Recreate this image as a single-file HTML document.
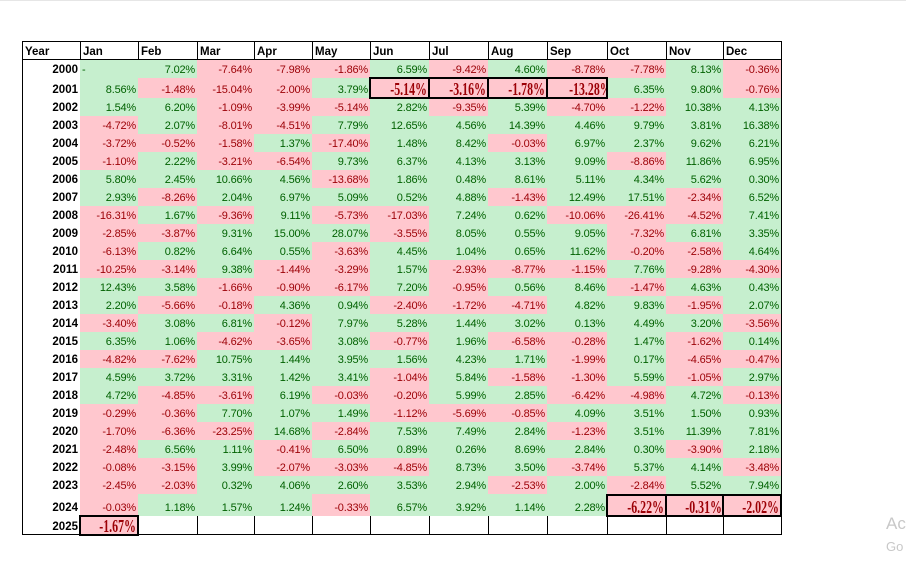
<!DOCTYPE html>
<html><head><meta charset="utf-8"><style>
html,body{margin:0;padding:0;background:#fff;width:906px;height:564px;overflow:hidden;position:relative}
table{position:absolute;left:22px;top:41px;border-collapse:separate;border-spacing:0;table-layout:fixed;width:759px;font-family:"Liberation Sans",sans-serif;font-size:11px;letter-spacing:-0.2px}
td,th{padding:0 2px 1px 2px;vertical-align:bottom;text-align:right;white-space:nowrap;overflow:hidden;line-height:14px}
th{font-weight:bold;color:#000;font-size:11.5px;letter-spacing:0}
thead th{text-align:left;height:18px;padding-left:3px}
tr{height:18px}
tr.r01{height:20px} tr.r24{height:22px} tr.r25{height:19px}
.g{background:#C6EFCE;color:#006100}
.r{background:#FFC7CE;color:#9C0006}
.b{font-family:"Liberation Serif",serif;font-weight:bold;font-size:17.5px;color:#9C0006;letter-spacing:0;line-height:17px;padding-bottom:0}
.b span{display:inline-block;transform:scaleX(0.68);transform-origin:right bottom}
.l{position:absolute;background:#000}
.box{position:absolute;border:2px solid #000;box-sizing:border-box}
.wm{position:absolute;color:#c8c8c8;font-family:"Liberation Sans",sans-serif}
</style></head><body>
<div style="position:absolute;left:0;top:0;width:906px;height:1px;background:#e6e6e6"></div>
<table>
<colgroup><col style="width:58px"><col style="width:58px"><col style="width:59px"><col style="width:57px"><col style="width:58px"><col style="width:58px"><col style="width:59px"><col style="width:59px"><col style="width:59px"><col style="width:60px"><col style="width:59px"><col style="width:57px"><col style="width:58px"></colgroup>
<thead><tr><th>Year</th><th>Jan</th><th>Feb</th><th>Mar</th><th>Apr</th><th>May</th><th>Jun</th><th>Jul</th><th>Aug</th><th>Sep</th><th>Oct</th><th>Nov</th><th>Dec</th></tr></thead>
<tbody>
<tr><th>2000</th><td class="g" style="text-align:left">-</td><td class="g">7.02%</td><td class="r">-7.64%</td><td class="r">-7.98%</td><td class="r">-1.86%</td><td class="g">6.59%</td><td class="r">-9.42%</td><td class="g">4.60%</td><td class="r">-8.78%</td><td class="r">-7.78%</td><td class="g">8.13%</td><td class="r">-0.36%</td></tr>
<tr class="r01"><th>2001</th><td class="g">8.56%</td><td class="r">-1.48%</td><td class="r">-15.04%</td><td class="r">-2.00%</td><td class="g">3.79%</td><td class="r b"><span>-5.14%</span></td><td class="r b"><span>-3.16%</span></td><td class="r b"><span>-1.78%</span></td><td class="r b"><span>-13.28%</span></td><td class="g">6.35%</td><td class="g">9.80%</td><td class="r">-0.76%</td></tr>
<tr><th>2002</th><td class="g">1.54%</td><td class="g">6.20%</td><td class="r">-1.09%</td><td class="r">-3.99%</td><td class="r">-5.14%</td><td class="g">2.82%</td><td class="r">-9.35%</td><td class="g">5.39%</td><td class="r">-4.70%</td><td class="r">-1.22%</td><td class="g">10.38%</td><td class="g">4.13%</td></tr>
<tr><th>2003</th><td class="r">-4.72%</td><td class="g">2.07%</td><td class="r">-8.01%</td><td class="r">-4.51%</td><td class="g">7.79%</td><td class="g">12.65%</td><td class="g">4.56%</td><td class="g">14.39%</td><td class="g">4.46%</td><td class="g">9.79%</td><td class="g">3.81%</td><td class="g">16.38%</td></tr>
<tr><th>2004</th><td class="r">-3.72%</td><td class="r">-0.52%</td><td class="r">-1.58%</td><td class="g">1.37%</td><td class="r">-17.40%</td><td class="g">1.48%</td><td class="g">8.42%</td><td class="r">-0.03%</td><td class="g">6.97%</td><td class="g">2.37%</td><td class="g">9.62%</td><td class="g">6.21%</td></tr>
<tr><th>2005</th><td class="r">-1.10%</td><td class="g">2.22%</td><td class="r">-3.21%</td><td class="r">-6.54%</td><td class="g">9.73%</td><td class="g">6.37%</td><td class="g">4.13%</td><td class="g">3.13%</td><td class="g">9.09%</td><td class="r">-8.86%</td><td class="g">11.86%</td><td class="g">6.95%</td></tr>
<tr><th>2006</th><td class="g">5.80%</td><td class="g">2.45%</td><td class="g">10.66%</td><td class="g">4.56%</td><td class="r">-13.68%</td><td class="g">1.86%</td><td class="g">0.48%</td><td class="g">8.61%</td><td class="g">5.11%</td><td class="g">4.34%</td><td class="g">5.62%</td><td class="g">0.30%</td></tr>
<tr><th>2007</th><td class="g">2.93%</td><td class="r">-8.26%</td><td class="g">2.04%</td><td class="g">6.97%</td><td class="g">5.09%</td><td class="g">0.52%</td><td class="g">4.88%</td><td class="r">-1.43%</td><td class="g">12.49%</td><td class="g">17.51%</td><td class="r">-2.34%</td><td class="g">6.52%</td></tr>
<tr><th>2008</th><td class="r">-16.31%</td><td class="g">1.67%</td><td class="r">-9.36%</td><td class="g">9.11%</td><td class="r">-5.73%</td><td class="r">-17.03%</td><td class="g">7.24%</td><td class="g">0.62%</td><td class="r">-10.06%</td><td class="r">-26.41%</td><td class="r">-4.52%</td><td class="g">7.41%</td></tr>
<tr><th>2009</th><td class="r">-2.85%</td><td class="r">-3.87%</td><td class="g">9.31%</td><td class="g">15.00%</td><td class="g">28.07%</td><td class="r">-3.55%</td><td class="g">8.05%</td><td class="g">0.55%</td><td class="g">9.05%</td><td class="r">-7.32%</td><td class="g">6.81%</td><td class="g">3.35%</td></tr>
<tr><th>2010</th><td class="r">-6.13%</td><td class="g">0.82%</td><td class="g">6.64%</td><td class="g">0.55%</td><td class="r">-3.63%</td><td class="g">4.45%</td><td class="g">1.04%</td><td class="g">0.65%</td><td class="g">11.62%</td><td class="r">-0.20%</td><td class="r">-2.58%</td><td class="g">4.64%</td></tr>
<tr><th>2011</th><td class="r">-10.25%</td><td class="r">-3.14%</td><td class="g">9.38%</td><td class="r">-1.44%</td><td class="r">-3.29%</td><td class="g">1.57%</td><td class="r">-2.93%</td><td class="r">-8.77%</td><td class="r">-1.15%</td><td class="g">7.76%</td><td class="r">-9.28%</td><td class="r">-4.30%</td></tr>
<tr><th>2012</th><td class="g">12.43%</td><td class="g">3.58%</td><td class="r">-1.66%</td><td class="r">-0.90%</td><td class="r">-6.17%</td><td class="g">7.20%</td><td class="r">-0.95%</td><td class="g">0.56%</td><td class="g">8.46%</td><td class="r">-1.47%</td><td class="g">4.63%</td><td class="g">0.43%</td></tr>
<tr><th>2013</th><td class="g">2.20%</td><td class="r">-5.66%</td><td class="r">-0.18%</td><td class="g">4.36%</td><td class="g">0.94%</td><td class="r">-2.40%</td><td class="r">-1.72%</td><td class="r">-4.71%</td><td class="g">4.82%</td><td class="g">9.83%</td><td class="r">-1.95%</td><td class="g">2.07%</td></tr>
<tr><th>2014</th><td class="r">-3.40%</td><td class="g">3.08%</td><td class="g">6.81%</td><td class="r">-0.12%</td><td class="g">7.97%</td><td class="g">5.28%</td><td class="g">1.44%</td><td class="g">3.02%</td><td class="g">0.13%</td><td class="g">4.49%</td><td class="g">3.20%</td><td class="r">-3.56%</td></tr>
<tr><th>2015</th><td class="g">6.35%</td><td class="g">1.06%</td><td class="r">-4.62%</td><td class="r">-3.65%</td><td class="g">3.08%</td><td class="r">-0.77%</td><td class="g">1.96%</td><td class="r">-6.58%</td><td class="r">-0.28%</td><td class="g">1.47%</td><td class="r">-1.62%</td><td class="g">0.14%</td></tr>
<tr><th>2016</th><td class="r">-4.82%</td><td class="r">-7.62%</td><td class="g">10.75%</td><td class="g">1.44%</td><td class="g">3.95%</td><td class="g">1.56%</td><td class="g">4.23%</td><td class="g">1.71%</td><td class="r">-1.99%</td><td class="g">0.17%</td><td class="r">-4.65%</td><td class="r">-0.47%</td></tr>
<tr><th>2017</th><td class="g">4.59%</td><td class="g">3.72%</td><td class="g">3.31%</td><td class="g">1.42%</td><td class="g">3.41%</td><td class="r">-1.04%</td><td class="g">5.84%</td><td class="r">-1.58%</td><td class="r">-1.30%</td><td class="g">5.59%</td><td class="r">-1.05%</td><td class="g">2.97%</td></tr>
<tr><th>2018</th><td class="g">4.72%</td><td class="r">-4.85%</td><td class="r">-3.61%</td><td class="g">6.19%</td><td class="r">-0.03%</td><td class="r">-0.20%</td><td class="g">5.99%</td><td class="g">2.85%</td><td class="r">-6.42%</td><td class="r">-4.98%</td><td class="g">4.72%</td><td class="r">-0.13%</td></tr>
<tr><th>2019</th><td class="r">-0.29%</td><td class="r">-0.36%</td><td class="g">7.70%</td><td class="g">1.07%</td><td class="g">1.49%</td><td class="r">-1.12%</td><td class="r">-5.69%</td><td class="r">-0.85%</td><td class="g">4.09%</td><td class="g">3.51%</td><td class="g">1.50%</td><td class="g">0.93%</td></tr>
<tr><th>2020</th><td class="r">-1.70%</td><td class="r">-6.36%</td><td class="r">-23.25%</td><td class="g">14.68%</td><td class="r">-2.84%</td><td class="g">7.53%</td><td class="g">7.49%</td><td class="g">2.84%</td><td class="r">-1.23%</td><td class="g">3.51%</td><td class="g">11.39%</td><td class="g">7.81%</td></tr>
<tr><th>2021</th><td class="r">-2.48%</td><td class="g">6.56%</td><td class="g">1.11%</td><td class="r">-0.41%</td><td class="g">6.50%</td><td class="g">0.89%</td><td class="g">0.26%</td><td class="g">8.69%</td><td class="g">2.84%</td><td class="g">0.30%</td><td class="r">-3.90%</td><td class="g">2.18%</td></tr>
<tr><th>2022</th><td class="r">-0.08%</td><td class="r">-3.15%</td><td class="g">3.99%</td><td class="r">-2.07%</td><td class="r">-3.03%</td><td class="r">-4.85%</td><td class="g">8.73%</td><td class="g">3.50%</td><td class="r">-3.74%</td><td class="g">5.37%</td><td class="g">4.14%</td><td class="r">-3.48%</td></tr>
<tr><th>2023</th><td class="r">-2.45%</td><td class="r">-2.03%</td><td class="g">0.32%</td><td class="g">4.06%</td><td class="g">2.60%</td><td class="g">3.53%</td><td class="g">2.94%</td><td class="r">-2.53%</td><td class="g">2.00%</td><td class="r">-2.84%</td><td class="g">5.52%</td><td class="g">7.94%</td></tr>
<tr class="r24"><th>2024</th><td class="r">-0.03%</td><td class="g">1.18%</td><td class="g">1.57%</td><td class="g">1.24%</td><td class="r">-0.33%</td><td class="g">6.57%</td><td class="g">3.92%</td><td class="g">1.14%</td><td class="g">2.28%</td><td class="r b"><span>-6.22%</span></td><td class="r b"><span>-0.31%</span></td><td class="r b"><span>-2.02%</span></td></tr>
<tr class="r25"><th>2025</th><td class="r b"><span>-1.67%</span></td><td></td><td></td><td></td><td></td><td></td><td></td><td></td><td></td><td></td><td></td><td></td></tr>
</tbody></table>
<div class="l" style="left:22px;top:41px;width:759px;height:1px"></div>
<div class="l" style="left:22px;top:59px;width:759px;height:1px"></div>
<div class="l" style="left:22px;top:534px;width:760px;height:1px"></div>
<div class="l" style="left:22px;top:41px;width:1px;height:494px"></div>
<div class="l" style="left:781px;top:41px;width:1px;height:494px"></div>
<div class="l" style="left:80px;top:41px;width:1px;height:19px"></div>
<div class="l" style="left:138px;top:41px;width:1px;height:19px"></div>
<div class="l" style="left:197px;top:41px;width:1px;height:19px"></div>
<div class="l" style="left:254px;top:41px;width:1px;height:19px"></div>
<div class="l" style="left:312px;top:41px;width:1px;height:19px"></div>
<div class="l" style="left:370px;top:41px;width:1px;height:19px"></div>
<div class="l" style="left:429px;top:41px;width:1px;height:19px"></div>
<div class="l" style="left:488px;top:41px;width:1px;height:19px"></div>
<div class="l" style="left:547px;top:41px;width:1px;height:19px"></div>
<div class="l" style="left:607px;top:41px;width:1px;height:19px"></div>
<div class="l" style="left:666px;top:41px;width:1px;height:19px"></div>
<div class="l" style="left:723px;top:41px;width:1px;height:19px"></div>
<div class="l" style="left:80px;top:516px;width:1px;height:19px"></div>
<div class="l" style="left:197px;top:516px;width:1px;height:19px"></div>
<div class="l" style="left:254px;top:516px;width:1px;height:19px"></div>
<div class="l" style="left:312px;top:516px;width:1px;height:19px"></div>
<div class="l" style="left:370px;top:516px;width:1px;height:19px"></div>
<div class="l" style="left:429px;top:516px;width:1px;height:19px"></div>
<div class="l" style="left:488px;top:516px;width:1px;height:19px"></div>
<div class="l" style="left:547px;top:516px;width:1px;height:19px"></div>
<div class="l" style="left:607px;top:516px;width:1px;height:19px"></div>
<div class="l" style="left:666px;top:516px;width:1px;height:19px"></div>
<div class="l" style="left:723px;top:516px;width:1px;height:19px"></div>
<div class="box" style="left:369px;top:77px;width:61px;height:22px"></div>
<div class="box" style="left:428px;top:77px;width:61px;height:22px"></div>
<div class="box" style="left:487px;top:77px;width:61px;height:22px"></div>
<div class="box" style="left:546px;top:77px;width:62px;height:22px"></div>
<div class="box" style="left:606px;top:494px;width:61px;height:23px"></div>
<div class="box" style="left:665px;top:494px;width:59px;height:23px"></div>
<div class="box" style="left:722px;top:494px;width:60px;height:23px"></div>
<div class="box" style="left:79px;top:515px;width:60px;height:21px"></div>
<div class="wm" style="left:886px;top:514px;font-size:17px">Ac</div>
<div class="wm" style="left:886px;top:539px;font-size:13px">Go</div>
</body></html>
